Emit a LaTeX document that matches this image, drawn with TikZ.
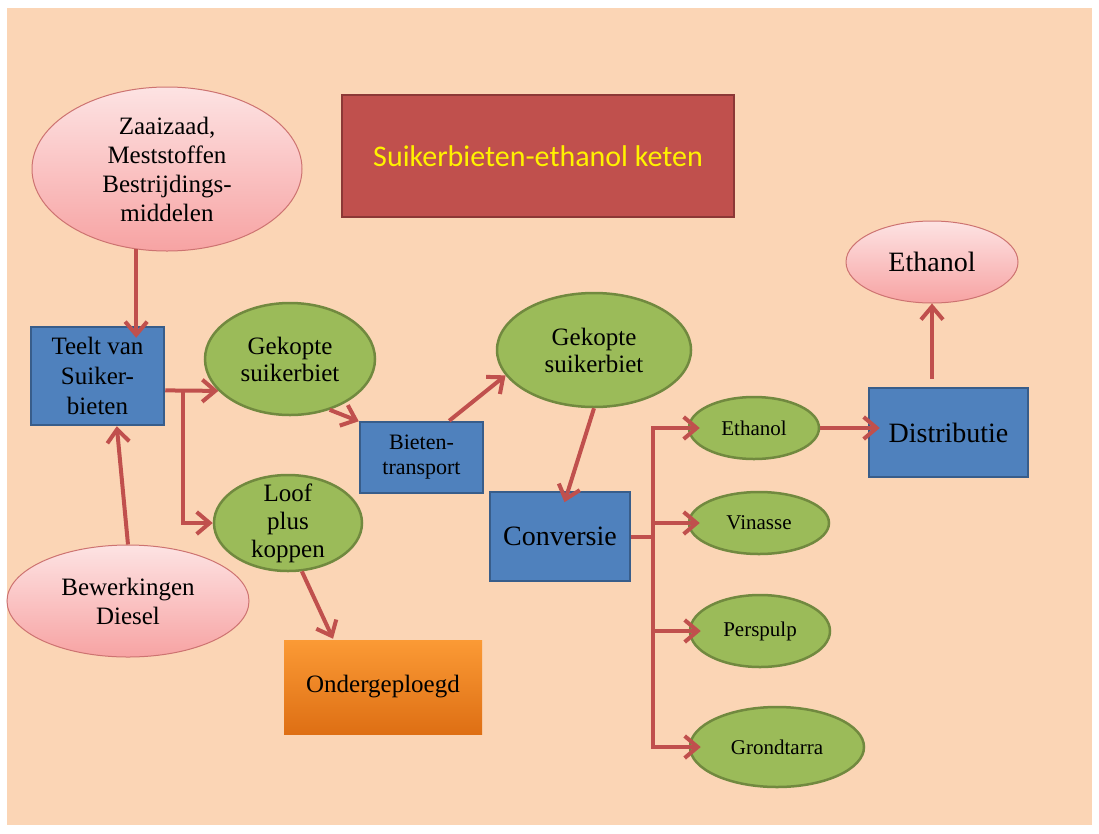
\documentclass[tikz,border=0pt]{standalone}
\usepackage{fontspec}
\setmainfont{Liberation Serif}
\newfontfamily\titlefont{Carlito}
\usetikzlibrary{shapes.geometric,arrows.meta}

\definecolor{peach}{HTML}{FBD5B5}
\definecolor{boxblue}{HTML}{4F81BD}
\definecolor{boxedge}{HTML}{385D8A}
\definecolor{leaf}{HTML}{9BBB59}
\definecolor{leafedge}{HTML}{71893F}
\definecolor{brick}{HTML}{C0504D}
\definecolor{brickedge}{HTML}{8C3836}
\definecolor{rosetop}{HTML}{FDE3E3}
\definecolor{rosebot}{HTML}{F7A3A3}
\definecolor{orangetop}{HTML}{FB9A35}
\definecolor{orangebot}{HTML}{DE6F14}
\definecolor{titleyellow}{HTML}{FFF200}

\begin{document}
\begin{tikzpicture}[
    x=1pt,y=-1pt,
    box/.style={
      draw=boxedge,
      fill=boxblue,
      line width=2.5pt,
      inner sep=0pt,
      align=center,
      font=\fontsize{25}{30}\selectfont
    },
    bubble/.style={
      ellipse,
      draw=leafedge,
      fill=leaf,
      line width=2.5pt,
      inner sep=-15pt,
      align=center,
      font=\fontsize{25}{27}\selectfont
    },
    yield/.style={
      bubble,
      font=\fontsize{21}{24}\selectfont
    },
    rose/.style={
      ellipse,
      draw=brick!80,
      line width=1pt,
      top color=rosetop,
      bottom color=rosebot,
      inner sep=-15pt,
      align=center,
      font=\fontsize{25}{29}\selectfont
    },
    flow/.style={
      draw=brick,
      line width=4pt,
      -{Straight Barb[length=13pt,width=22pt]}
    },
    dipin/.style={shorten >=-12pt}
    ]
    \useasboundingbox (0,0) rectangle (1099,833);
    \fill[white] (0,0) rectangle (1099,833);
    \fill[peach] (7,8) rectangle (1092,825);

    \node[draw=brickedge,fill=brick,line width=2.5pt,minimum width=392pt,minimum height=122pt,
      text=titleyellow,font=\titlefont\fontsize{30}{36}\selectfont] at (538,156) 
      (title) {Suikerbieten-ethanol keten};

    % left part: teelt
    \node[rose,minimum width=270pt,minimum height=164pt] at (167,169) 
      (seed) {Zaaizaad,\\Meststoffen\\Bestrijdings-\\middelen};
    \node[box,minimum width=133pt,minimum height=98pt] at (97.5,376) 
      (teelt) {Teelt van\\Suiker-\\bieten};
    \node[rose,minimum width=242pt,minimum height=112pt] at (128,601) 
      (diesel) {Bewerkingen\\Diesel};
    \node[bubble,minimum width=170pt,minimum height=112pt] at (290,359) 
      (beet1) {Gekopte\\suikerbiet};
    \node[bubble,minimum width=148pt,minimum height=96pt,font=\fontsize{25}{28}\selectfont] at (288,523) 
      (loof) {Loof\\plus\\koppen};
    \node[box,draw=none,top color=orangetop,bottom color=orangebot,
      minimum width=198pt,minimum height=94pt] at (383,687) 
      (plough) {Ondergeploegd};

    % middle part: transport en conversie
    \node[box,minimum width=123pt,minimum height=71pt,font=\fontsize{22}{25}\selectfont] at (421.5,457.5) 
      (trans) {Bieten-\\transport};
    \node[bubble,minimum width=194pt,minimum height=114pt] at (594,350) 
      (beet2) {Gekopte\\suikerbiet};
    \node[box,minimum width=140pt,minimum height=89pt,font=\fontsize{28}{32}\selectfont] at (560,536.5) 
      (conv) {Conversie};

    % right part: producten
    \node[yield,minimum width=130pt,minimum height=62pt] at (754,428) (eth) {Ethanol};
    \node[yield,minimum width=140pt,minimum height=62pt] at (759,523) (vin) {Vinasse};
    \node[yield,minimum width=140pt,minimum height=72pt] at (760,631) (pulp) {Perspulp};
    \node[yield,minimum width=174pt,minimum height=80pt] at (777,747) (tarra) {Grondtarra};
    \node[box,minimum width=159pt,minimum height=89pt,font=\fontsize{28}{32}\selectfont] at (948.5,432.5) 
      (distr) {Distributie};
    \node[rose,minimum width=172pt,minimum height=82pt,font=\fontsize{28}{32}\selectfont] at (932,262) 
      (ethout) {Ethanol};

    \coordinate (fork) at (183,390);
    \coordinate (bus) at (653,536.5);

    \draw[flow,dipin] (seed.249) -- (seed.249 |- teelt.north);
    \draw[flow] (diesel.north) -- (teelt.-69);
    \draw[flow] (teelt.-12) -- (beet1.204);
    \draw[flow] (fork) |- (loof.west);
    \draw[flow] (loof.-74) -- (plough.136);
    \draw[flow] (beet1.-52) -- (trans.150);
    \draw[flow] (trans.53) -- (beet2.196);
    \draw[flow,dipin] (beet2.south) -- (conv.80);

    \draw[flow,-] (conv.east) -- (bus);
    \draw[flow,dipin] (bus) |- (eth.west);
    \draw[flow,dipin] (bus) |- (vin.west);
    \draw[flow,dipin] (bus) |- (pulp.west);
    \draw[flow,dipin] (bus) |- (tarra.west);
    \draw[flow,dipin] (eth.east) -- (eth.east -| distr.west);
    \draw[flow,shorten <=8pt] (ethout.south |- distr.north) -- (ethout.south);
\end{tikzpicture}
\end{document}
